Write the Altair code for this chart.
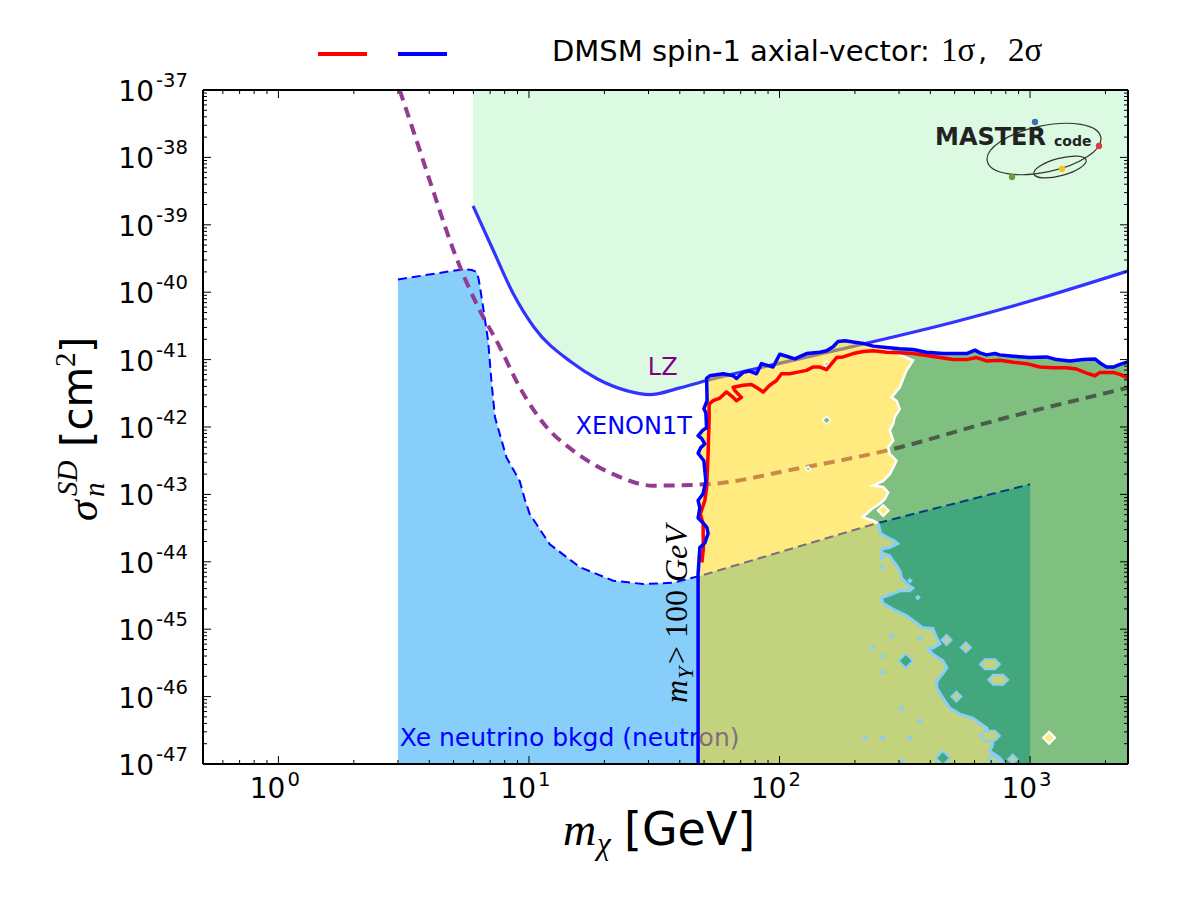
import altair as alt
import pandas as pd

# ---------------- axis ranges ----------------
X_DOMAIN = [0.5, 2460.0]      # m_chi [GeV]
Y_DOMAIN = [1e-47, 1e-37]     # sigma [cm^2]

# ---------------- curves: log10(m / GeV), log10(sigma / cm^2) ----------------
xenon1t_lm = [0.777, 0.860, 0.937, 1.020, 1.170, 1.270, 1.389, 1.482, 1.602, 1.709, 2.100, 2.720, 3.039, 3.400]
xenon1t_ls = [-38.72, -39.40, -40.02, -40.52, -41.04, -41.28, -41.46, -41.52, -41.42, -41.31, -40.97, -40.42, -40.09, -39.675]

lz_lm = [0.484, 0.537, 0.617, 0.704, 0.797, 0.883, 0.963, 1.070, 1.176, 1.336, 1.495, 1.709, 2.068, 2.427, 2.866, 3.400]
lz_ls = [-37.00, -37.59, -38.49, -39.43, -40.22, -40.81, -41.41, -42.00, -42.35, -42.70, -42.87, -42.85, -42.62, -42.35, -41.90, -41.41]

floor_lm = [0.477, 0.737, 0.772, 0.792, 0.800, 0.817, 0.837, 0.850, 0.864, 0.910, 0.963, 0.983, 1.003, 1.083,
            1.203, 1.336, 1.456, 1.575, 1.682, 2.387, 3.000]
floor_ls = [-39.81, -39.66, -39.67, -39.70, -39.82, -40.22, -40.72, -41.31, -41.85, -42.45, -42.80, -43.07, -43.29, -43.74,
            -44.08, -44.28, -44.33, -44.31, -44.21, -43.43, -42.85]

# DMSM 2 sigma contour (blue): left edge from the bottom, then along the top
c2_lm = [1.675, 1.675, 1.682, 1.702, 1.715, 1.710, 1.694, 1.675, 1.682, 1.675, 1.695, 1.706, 1.698, 1.675, 1.685,
         1.702, 1.689, 1.675, 1.693, 1.709, 1.706, 1.698, 1.711, 1.709, 1.722,
         1.775, 1.815, 1.828, 1.855, 1.881, 1.908, 1.928, 1.955, 1.974, 2.001, 2.028, 2.061, 2.108, 2.161, 2.188,
         2.214, 2.234, 2.261, 2.294, 2.334, 2.374, 2.427, 2.480, 2.533, 2.587, 2.653, 2.747, 2.780, 2.800, 2.826,
         2.860, 2.879, 2.933, 2.999, 3.066, 3.106, 3.159, 3.212, 3.259, 3.279, 3.305, 3.332, 3.359, 3.395]
c2_ls = [-47.05, -44.18, -43.79, -43.72, -43.58, -43.49, -43.42, -43.35, -43.20, -43.09, -42.99, -42.80, -42.50, -42.39, -42.31,
         -42.25, -42.17, -42.13, -42.05, -42.01, -41.79, -41.73, -41.61, -41.28, -41.24,
         -41.21, -41.24, -41.28, -41.19, -41.17, -41.21, -41.06, -41.09, -41.11, -40.92, -40.95, -40.99, -40.91, -40.89, -40.87,
         -40.81, -40.73, -40.72, -40.74, -40.76, -40.80, -40.82, -40.84, -40.85, -40.89, -40.91, -40.91, -40.86, -40.90, -40.93,
         -40.91, -40.93, -40.95, -40.97, -40.96, -41.00, -41.02, -41.00, -40.99, -41.05, -41.11, -41.11, -41.07, -41.03]

# DMSM 1 sigma contour (red)
c1_lm = [1.690, 1.696, 1.695, 1.684, 1.702, 1.709, 1.715, 1.719, 1.719, 1.735, 1.762, 1.788, 1.815, 1.828, 1.848,
         1.822, 1.815, 1.855, 1.888, 1.915, 1.935, 1.961, 1.988, 2.008, 2.041, 2.068, 2.108, 2.134, 2.161, 2.188,
         2.228, 2.254, 2.294, 2.334, 2.374, 2.427, 2.480, 2.533, 2.587, 2.640, 2.693, 2.747, 2.786, 2.826, 2.879,
         2.933, 2.986, 3.039, 3.092, 3.146, 3.186, 3.226, 3.259, 3.279, 3.332, 3.359, 3.395]
c1_ls = [-44.01, -43.81, -43.44, -43.29, -43.09, -42.90, -42.40, -41.90, -41.66, -41.61, -41.57, -41.48, -41.56, -41.61, -41.56,
         -41.46, -41.41, -41.38, -41.37, -41.43, -41.48, -41.38, -41.31, -41.21, -41.21, -41.19, -41.16, -41.11, -41.11, -41.15,
         -40.97, -40.96, -40.91, -40.88, -40.87, -40.89, -40.90, -40.91, -40.94, -40.97, -41.00, -41.00, -40.97, -41.02, -41.01,
         -41.04, -41.06, -41.11, -41.12, -41.12, -41.14, -41.20, -41.24, -41.19, -41.19, -41.22, -41.28]

# border between the yellow and the green zones, above the neutrino floor
split_hi_lm = [2.432, 2.533, 2.520, 2.507, 2.480, 2.447, 2.467, 2.480, 2.460, 2.454, 2.440, 2.454, 2.434, 2.440,
               2.467, 2.454, 2.440, 2.414, 2.374, 2.414, 2.434, 2.420, 2.400, 2.367, 2.331, 2.374, 2.394]
split_hi_ls = [-40.86, -41.01, -41.09, -41.16, -41.41, -41.56, -41.61, -41.73, -41.85, -41.95, -42.05, -42.20, -42.30, -42.40,
               -42.50, -42.60, -42.70, -42.80, -42.87, -42.89, -42.97, -43.07, -43.14, -43.22, -43.34, -43.39, -43.43]
# ... and below the neutrino floor
split_lo_lm = [2.404, 2.432, 2.460, 2.472, 2.440, 2.408, 2.408, 2.440, 2.452, 2.468, 2.480, 2.488, 2.508, 2.532, 2.520,
               2.480, 2.440, 2.408, 2.412, 2.452, 2.508, 2.548, 2.572, 2.612, 2.628, 2.640, 2.612, 2.592, 2.612, 2.652,
               2.668, 2.652, 2.628, 2.628, 2.652, 2.680, 2.720, 2.772, 2.828, 2.840, 2.852, 2.840, 2.879, 2.908]
split_lo_ls = [-43.58, -43.64, -43.69, -43.73, -43.79, -43.81, -43.87, -43.91, -43.98, -44.06, -44.13, -44.24, -44.33, -44.39, -44.43,
               -44.43, -44.49, -44.53, -44.61, -44.70, -44.80, -44.91, -44.98, -44.99, -45.13, -45.22, -45.28, -45.29, -45.37, -45.47,
               -45.57, -45.66, -45.77, -45.87, -46.02, -46.17, -46.26, -46.32, -46.47, -46.61, -46.70, -46.81, -46.91, -47.05]

# small islands of the contour map
olive_isl_lm = [2.667, 2.744, 2.706, 2.852, 2.931]
olive_isl_ls = [-45.16, -45.27, -46.00, -46.93, -46.93]
olive_isl_w = [10, 10, 10, 9, 9]
olive_hex_lm = [2.840, 2.873, 2.840]
olive_hex_ls = [-45.52, -45.75, -46.58]
olive_hex_w = [20, 20, 20]
yellow_isl_lm = [2.414, 3.076]
yellow_isl_ls = [-43.24, -46.61]
yellow_isl_w = [11, 12]
green_isl_lm = [2.188, 2.188, 2.114]
green_isl_ls = [-41.90, -41.06, -42.62]
green_isl_w = [8, 5, 5]
teal_isl_lm = [2.504, 2.652]
teal_isl_ls = [-45.47, -46.91]
teal_isl_w = [14, 14]
dot_lm = [2.407, 2.412, 2.520, 2.552, 2.447, 2.372, 2.412, 2.412, 2.560, 2.487, 2.560, 2.341, 2.412, 2.520, 2.487]
dot_ls = [-43.94, -44.08, -44.28, -44.53, -45.10, -45.27, -45.40, -45.64, -45.14, -46.18, -46.36, -46.61, -46.61, -46.61, -46.96]

# tick labels
y_exponents = list(range(-47, -36))
x_exponents = [0, 1, 2, 3]

# in-plot labels (log10 positions)
label_lz = (1.534, -41.235)
label_xenon = (1.418, -42.097)
label_floor = (0.484, -46.733)


def frame(lm, ls, **extra):
    d = {"m": [10.0 ** v for v in lm], "s": [10.0 ** v for v in ls], "i": list(range(len(lm)))}
    d.update(extra)
    return pd.DataFrame(d)


X = alt.X("m:Q", scale=alt.Scale(type="log", domain=X_DOMAIN, nice=False), axis=None)
Y = alt.Y("s:Q", scale=alt.Scale(type="log", domain=Y_DOMAIN, nice=False), axis=None)
W, H = 925, 674
SERIF = "Liberation Serif"

layers = []

# excluded region above XENON1T
layers.append(alt.Chart(frame(xenon1t_lm, xenon1t_ls, top=[1e-37] * len(xenon1t_lm)))
              .mark_area(color="#dcfae2", interpolate="monotone", clip=True).encode(x=X, y=Y, y2=alt.Y2("top:Q")))
# neutrino floor
layers.append(alt.Chart(frame(floor_lm, floor_ls, bottom=[1e-48] * len(floor_lm)))
              .mark_area(color="#87cefa", clip=True).encode(x=X, y=Y, y2=alt.Y2("bottom:Q")))
layers.append(alt.Chart(frame(floor_lm, floor_ls)).mark_line(color="#0000ff", strokeWidth=2, strokeDash=[9, 5], clip=True)
              .encode(x=X, y=Y, order="i:Q"))
layers.append(alt.Chart(frame(lz_lm, lz_ls)).mark_line(color="#933b93", strokeWidth=4, strokeDash=[11, 7],
                                                       interpolate="monotone", clip=True)
              .encode(x=X, y=Y, order="i:Q"))
layers.append(alt.Chart(frame(xenon1t_lm, xenon1t_ls)).mark_line(color="#3333ff", strokeWidth=3.2,
                                                                 interpolate="monotone", clip=True)
              .encode(x=X, y=Y, order="i:Q"))

# labels below the DMSM fills
layers.append(alt.Chart(frame([label_floor[0]], [label_floor[1]], t=["Xe neutrino bkgd (neutron)"]))
              .mark_text(align="left", baseline="alphabetic", font="DejaVu Sans", fontSize=25, color="#0000ff")
              .encode(x=X, y=Y, text="t:N"))
layers.append(alt.Chart(frame([label_lz[0]], [label_lz[1]], t=["LZ"]))
              .mark_text(align="center", baseline="alphabetic", font="DejaVu Sans", fontSize=24, color="#800080")
              .encode(x=X, y=Y, text="t:N"))
layers.append(alt.Chart(frame([label_xenon[0]], [label_xenon[1]], t=["XENON1T"]))
              .mark_text(align="center", baseline="alphabetic", font="DejaVu Sans", fontSize=24, color="#0000ff")
              .encode(x=X, y=Y, text="t:N"))

# DMSM zones (half transparent, as in the original)
k = max(j for j, v in enumerate(c2_lm) if v <= split_hi_lm[0])
gold_lm = c2_lm[:k + 1] + split_hi_lm + split_lo_lm
gold_ls = c2_ls[:k + 1] + split_hi_ls + split_lo_ls
green_lm = c2_lm[k + 1:] + [3.45, 3.45] + split_lo_lm[::-1] + split_hi_lm[::-1]
green_ls = c2_ls[k + 1:] + [c2_ls[-1], -47.05] + split_lo_ls[::-1] + split_hi_ls[::-1]
layers.append(alt.Chart(frame(gold_lm, gold_ls)).mark_line(fill="#ffd700", fillOpacity=0.5, strokeOpacity=0, clip=True)
              .encode(x=X, y=Y, order="i:Q"))
layers.append(alt.Chart(frame(green_lm, green_ls)).mark_line(fill="#008000", fillOpacity=0.5, strokeOpacity=0, clip=True)
              .encode(x=X, y=Y, order="i:Q"))
layers.append(alt.Chart(frame(split_hi_lm, split_hi_ls)).mark_line(color="white", strokeWidth=2.5, clip=True)
              .encode(x=X, y=Y, order="i:Q"))
layers.append(alt.Chart(frame(split_hi_lm[-1:] + split_lo_lm, split_hi_ls[-1:] + split_lo_ls))
              .mark_line(color="#87cefa", strokeWidth=3, clip=True).encode(x=X, y=Y, order="i:Q"))

HEX = "M -1 0 L -0.5 -0.5 L 0.5 -0.5 L 1 0 L 0.5 0.5 L -0.5 0.5 Z"


def islands(lm, ls, widths, fill, stroke, shape="diamond", sw=2):
    df = frame(lm, ls, sz=[w * w for w in widths])
    return (alt.Chart(df).mark_point(shape=shape, filled=True, fill=fill, stroke=stroke, strokeWidth=sw,
                                     opacity=1, clip=True)
            .encode(x=X, y=Y, size=alt.Size("sz:Q", scale=None, legend=None)))


layers.append(islands(olive_isl_lm, olive_isl_ls, olive_isl_w, "#c4d17d", "#87cefa"))
layers.append(islands(olive_hex_lm, olive_hex_ls, olive_hex_w, "#c4d17d", "#87cefa", shape=HEX))
layers.append(islands(teal_isl_lm, teal_isl_ls, teal_isl_w, "#43a77d", "#87cefa"))
layers.append(islands(yellow_isl_lm, yellow_isl_ls, yellow_isl_w, "#ffeb80", "white"))
layers.append(islands(green_isl_lm, green_isl_ls, green_isl_w, "#80bf80", "white", sw=1.5))
layers.append(islands(dot_lm, dot_ls, [5] * len(dot_lm), "#87cefa", "#87cefa", sw=1))

# contours
layers.append(alt.Chart(frame(c1_lm, c1_ls)).mark_line(color="#ff0000", strokeWidth=3.5, strokeJoin="round", clip=True)
              .encode(x=X, y=Y, order="i:Q"))
layers.append(alt.Chart(frame(c2_lm, c2_ls)).mark_line(color="#0000ff", strokeWidth=3.5, strokeJoin="round", clip=True)
              .encode(x=X, y=Y, order="i:Q"))


def txt(t, xv, yv, fs, font="DejaVu Sans", style="normal", angle=0, color="black", weight="normal"):
    return (alt.Chart(pd.DataFrame({"t": [t]}))
            .mark_text(align="left", baseline="alphabetic", font=font, fontStyle=style, fontSize=fs,
                       angle=angle, color=color, fontWeight=weight)
            .encode(x=alt.value(xv), y=alt.value(yv), text="t:N"))


# m_Y > 100 GeV (rotated)
layers.append(txt("m", 484, 613, 32, font=SERIF, style="italic", angle=270))
layers.append(txt("Y", 490, 589, 22, font=SERIF, style="italic", angle=270))
layers.append(txt(">", 484, 574, 32, font=SERIF, angle=270))
layers.append(txt("100", 484, 548, 32, font=SERIF, angle=270))
layers.append(txt("GeV", 484, 492, 32, font=SERIF, style="italic", angle=270))

# ---------------- ticks (inside, on all four sides) ----------------
x_major = [10.0 ** e for e in x_exponents]
x_minor = [kk * 10.0 ** e for e in range(-1, 4) for kk in range(2, 10) if X_DOMAIN[0] < kk * 10.0 ** e < X_DOMAIN[1]]
y_major = [10.0 ** e for e in y_exponents]
y_minor = [kk * 10.0 ** e for e in range(-47, -37) for kk in range(2, 10)]
for vals, ln in [(x_major, 8), (x_minor, 4)]:
    d = pd.DataFrame({"m": vals})
    layers.append(alt.Chart(d).mark_rule(color="black", strokeWidth=1)
                  .encode(x=X, y=alt.value(H), y2=alt.value(H - ln)))
    layers.append(alt.Chart(d).mark_rule(color="black", strokeWidth=1)
                  .encode(x=X, y=alt.value(0), y2=alt.value(ln)))
for vals, ln in [(y_major, 8), (y_minor, 4)]:
    d = pd.DataFrame({"s": vals})
    layers.append(alt.Chart(d).mark_rule(color="black", strokeWidth=1)
                  .encode(y=Y, x=alt.value(0), x2=alt.value(ln)))
    layers.append(alt.Chart(d).mark_rule(color="black", strokeWidth=1)
                  .encode(y=Y, x=alt.value(W), x2=alt.value(W - ln)))

# frame
box = pd.DataFrame({"a": [0]})
for enc in [dict(x=alt.value(0), x2=alt.value(W), y=alt.value(0)),
            dict(x=alt.value(0), x2=alt.value(W), y=alt.value(H)),
            dict(y=alt.value(0), y2=alt.value(H), x=alt.value(0)),
            dict(y=alt.value(0), y2=alt.value(H), x=alt.value(W))]:
    layers.append(alt.Chart(box).mark_rule(color="black", strokeWidth=2).encode(**enc))

# tick labels
ylab = pd.DataFrame({"s": y_major, "base": ["10"] * len(y_major), "exp": [str(e) for e in y_exponents]})
layers.append(alt.Chart(ylab).mark_text(align="right", baseline="alphabetic", dy=11, font="DejaVu Sans", fontSize=28,
                                        color="black").encode(y=Y, x=alt.value(-49), text="base:N"))
layers.append(alt.Chart(ylab).mark_text(align="left", baseline="alphabetic", dy=-3, font="DejaVu Sans", fontSize=19.6,
                                        color="black").encode(y=Y, x=alt.value(-47), text="exp:N"))
xlab = pd.DataFrame({"m": x_major, "base": ["10"] * len(x_major), "exp": [str(e) for e in x_exponents]})
layers.append(alt.Chart(xlab).mark_text(align="right", baseline="alphabetic", dx=7, font="DejaVu Sans", fontSize=28,
                                        color="black").encode(x=X, y=alt.value(708), text="base:N"))
layers.append(alt.Chart(xlab).mark_text(align="left", baseline="alphabetic", dx=9, font="DejaVu Sans", fontSize=19.6,
                                        color="black").encode(x=X, y=alt.value(696), text="exp:N"))

# axis titles
layers.append(txt("m", 360, 755, 46, font=SERIF, style="italic"))
layers.append(txt("χ", 394, 764, 31, font=SERIF, style="italic"))
layers.append(txt("[GeV]", 421, 755, 46))
layers.append(txt("σ", -106, 431, 42, font=SERIF, style="italic", angle=270))
layers.append(txt("n", -99, 407, 29, font=SERIF, style="italic", angle=270))
layers.append(txt("SD", -126, 406, 29, font=SERIF, style="italic", angle=270))
layers.append(txt("[cm", -111, 357, 42, angle=270))
layers.append(txt("2", -128, 277, 29, font=SERIF, angle=270))
layers.append(txt("]", -111, 263, 42, angle=270))

# legend
layers.append(alt.Chart(box).mark_rule(color="#ff0000", strokeWidth=4)
              .encode(x=alt.value(115), x2=alt.value(164), y=alt.value(-36)))
layers.append(alt.Chart(box).mark_rule(color="#0000ff", strokeWidth=4)
              .encode(x=alt.value(195), x2=alt.value(244), y=alt.value(-36)))
layers.append(txt("DMSM spin-1 axial-vector:", 349, -29, 29))
layers.append(txt("1σ", 738, -29, 33, font=SERIF))
layers.append(txt(",", 775, -29, 29))
layers.append(txt("2σ", 805, -29, 33, font=SERIF))

# MasterCode logo
ELL = "M -1 0 A 1 0.4 0 1 1 1 0 A 1 0.4 0 1 1 -1 0 Z"
ELL2 = "M -1 0 A 1 0.32 0 1 1 1 0 A 1 0.32 0 1 1 -1 0 Z"
layers.append(alt.Chart(box).mark_point(shape=ELL, filled=False, stroke="#333333", strokeWidth=1.2, angle=348,
                                        size=13456, opacity=1).encode(x=alt.value(841), y=alt.value(59)))
layers.append(alt.Chart(box).mark_point(shape=ELL2, filled=False, stroke="#333333", strokeWidth=1.2, angle=345,
                                        size=2916, opacity=1).encode(x=alt.value(857), y=alt.value(77)))
layers.append(txt("MASTER", 732, 55, 24, weight="bold", color="#222222"))
layers.append(txt("code", 851, 56, 14, weight="bold", color="#222222"))
logo_dots = pd.DataFrame({"px": [832, 896, 859, 809], "py": [32, 56, 79, 87],
                          "c": ["#3a6fb0", "#e0393e", "#f5c518", "#6a9a3a"]})
layers.append(alt.Chart(logo_dots).mark_circle(size=40, opacity=1)
              .encode(x=alt.X("px:Q", scale=None), y=alt.Y("py:Q", scale=None), color=alt.Color("c:N", scale=None)))

chart = (alt.layer(*layers)
         .properties(width=W, height=H, padding={"left": 203, "top": 90, "right": 72, "bottom": 136},
                     autosize=alt.AutoSizeParams(type="none"), background="white")
         .configure_view(stroke=None))

chart.save("out.html", embed_options={"renderer": "svg", "actions": False})
